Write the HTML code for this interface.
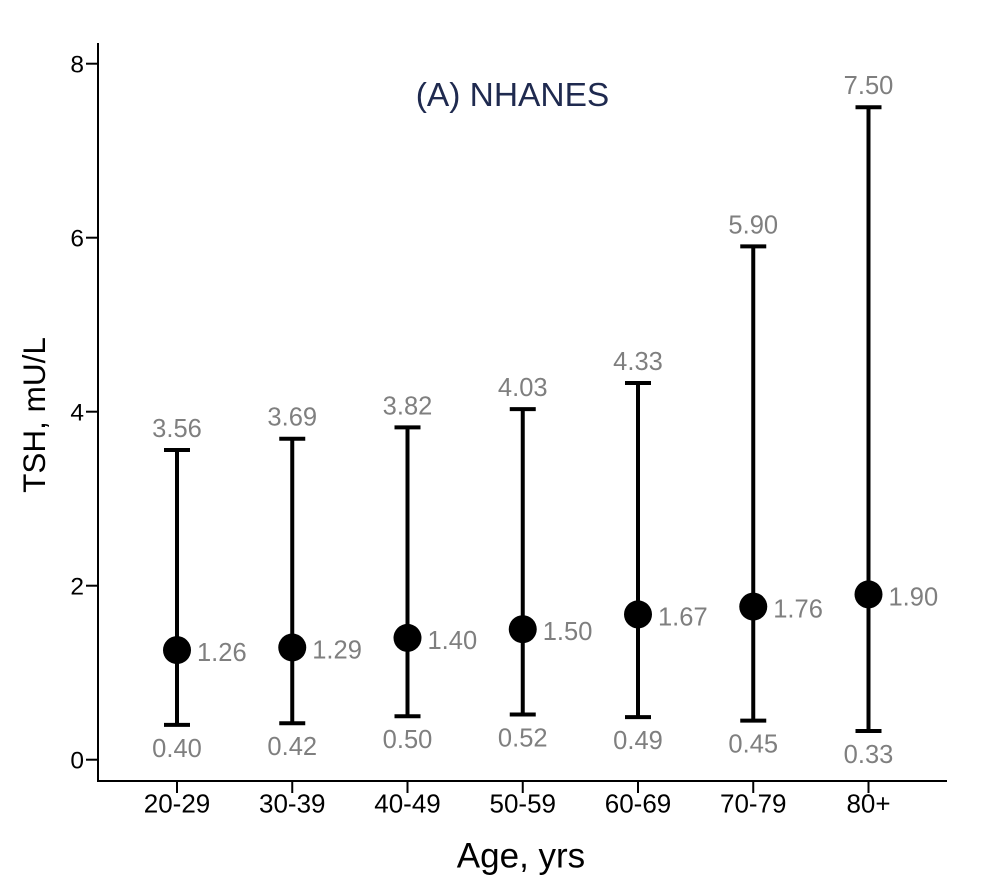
<!DOCTYPE html>
<html><head><meta charset="utf-8"><style>
html,body{margin:0;padding:0;background:#fff;}
svg{display:block;}
text{font-family:"Liberation Sans",Arial,sans-serif;}
</style></head><body>
<svg width="985" height="889" viewBox="0 0 985 889" xmlns="http://www.w3.org/2000/svg">
<rect width="985" height="889" fill="#fff"/>
<!-- axes -->
<line x1="98" y1="43" x2="98" y2="782" stroke="#000" stroke-width="2"/>
<line x1="97" y1="781" x2="947" y2="781" stroke="#000" stroke-width="2"/>
<!-- y ticks -->
<g stroke="#000" stroke-width="2">
<line x1="86" y1="759.7" x2="98" y2="759.7"/>
<line x1="86" y1="585.7" x2="98" y2="585.7"/>
<line x1="86" y1="411.7" x2="98" y2="411.7"/>
<line x1="86" y1="237.7" x2="98" y2="237.7"/>
<line x1="86" y1="63.7" x2="98" y2="63.7"/>
</g>
<g font-size="24.5" text-anchor="end" fill="#000">
<text x="84" y="768.5">0</text>
<text x="84" y="594.5">2</text>
<text x="84" y="420.5">4</text>
<text x="84" y="246.5">6</text>
<text x="84" y="72.5">8</text>
</g>
<!-- x ticks -->
<g stroke="#000" stroke-width="2">
<line x1="177" y1="781" x2="177" y2="793"/>
<line x1="292.25" y1="781" x2="292.25" y2="793"/>
<line x1="407.5" y1="781" x2="407.5" y2="793"/>
<line x1="522.75" y1="781" x2="522.75" y2="793"/>
<line x1="638" y1="781" x2="638" y2="793"/>
<line x1="753.25" y1="781" x2="753.25" y2="793"/>
<line x1="868.5" y1="781" x2="868.5" y2="793"/>
</g>
<g font-size="26" text-anchor="middle" fill="#000">
<text x="177" y="812.5">20-29</text>
<text x="292.25" y="812.5">30-39</text>
<text x="407.5" y="812.5">40-49</text>
<text x="522.75" y="812.5">50-59</text>
<text x="638" y="812.5">60-69</text>
<text x="753.25" y="812.5">70-79</text>
<text x="868.5" y="812.5">80+</text>
</g>
<!-- axis titles -->
<text x="521" y="867.5" font-size="35" text-anchor="middle" fill="#000">Age, yrs</text>
<text transform="translate(45,415) rotate(-90)" font-size="31.5" text-anchor="middle" fill="#000">TSH, mU/L</text>
<!-- title -->
<text x="512.5" y="106" font-size="33.5" text-anchor="middle" fill="#1f2a4f">(A) NHANES</text>
<!-- error bars -->
<g stroke="#000" stroke-width="4" fill="none">
<line x1="177" y1="724.9" x2="177" y2="450"/>
<line x1="164" y1="724.9" x2="190" y2="724.9"/>
<line x1="164" y1="450" x2="190" y2="450"/>
<line x1="292.25" y1="723.2" x2="292.25" y2="438.7"/>
<line x1="279.25" y1="723.2" x2="305.25" y2="723.2"/>
<line x1="279.25" y1="438.7" x2="305.25" y2="438.7"/>
<line x1="407.5" y1="716.2" x2="407.5" y2="427.4"/>
<line x1="394.5" y1="716.2" x2="420.5" y2="716.2"/>
<line x1="394.5" y1="427.4" x2="420.5" y2="427.4"/>
<line x1="522.75" y1="714.5" x2="522.75" y2="409.1"/>
<line x1="509.75" y1="714.5" x2="535.75" y2="714.5"/>
<line x1="509.75" y1="409.1" x2="535.75" y2="409.1"/>
<line x1="638" y1="717.1" x2="638" y2="383"/>
<line x1="625" y1="717.1" x2="651" y2="717.1"/>
<line x1="625" y1="383" x2="651" y2="383"/>
<line x1="753.25" y1="720.6" x2="753.25" y2="246.4"/>
<line x1="740.25" y1="720.6" x2="766.25" y2="720.6"/>
<line x1="740.25" y1="246.4" x2="766.25" y2="246.4"/>
<line x1="868.5" y1="731" x2="868.5" y2="107.2"/>
<line x1="855.5" y1="731" x2="881.5" y2="731"/>
<line x1="855.5" y1="107.2" x2="881.5" y2="107.2"/>
</g>
<!-- medians -->
<g fill="#000">
<circle cx="177" cy="650.1" r="14"/>
<circle cx="292.25" cy="647.5" r="14"/>
<circle cx="407.5" cy="637.9" r="14"/>
<circle cx="522.75" cy="629.2" r="14"/>
<circle cx="638" cy="614.4" r="14"/>
<circle cx="753.25" cy="606.6" r="14"/>
<circle cx="868.5" cy="594.4" r="14"/>
</g>
<!-- value labels -->
<g font-size="25.5" fill="#7f7f7f">
<text x="197" y="661">1.26</text>
<text x="312.25" y="658.5">1.29</text>
<text x="427.5" y="649">1.40</text>
<text x="542.75" y="640">1.50</text>
<text x="658" y="625.4">1.67</text>
<text x="773.25" y="617.6">1.76</text>
<text x="888.5" y="605.4">1.90</text>
</g>
<g font-size="25.5" fill="#7f7f7f" text-anchor="middle">
<text x="177" y="437">3.56</text>
<text x="292.25" y="425.7">3.69</text>
<text x="407.5" y="414.4">3.82</text>
<text x="522.75" y="396.1">4.03</text>
<text x="638" y="370">4.33</text>
<text x="753.25" y="233.4">5.90</text>
<text x="868.5" y="94.2">7.50</text>
<text x="177" y="757">0.40</text>
<text x="292.25" y="755.2">0.42</text>
<text x="407.5" y="748.2">0.50</text>
<text x="522.75" y="746.5">0.52</text>
<text x="638" y="749.1">0.49</text>
<text x="753.25" y="752.6">0.45</text>
<text x="868.5" y="763">0.33</text>
</g>
</svg>
</body></html>
